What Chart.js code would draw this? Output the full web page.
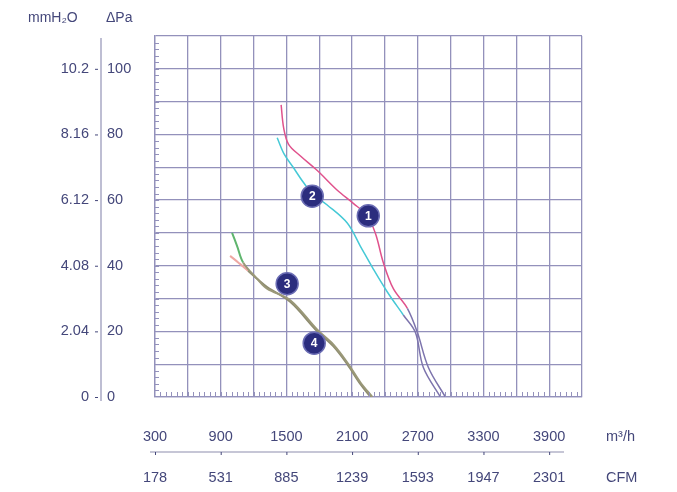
<!DOCTYPE html>
<html>
<head>
<meta charset="utf-8">
<script src="https://cdn.jsdelivr.net/npm/chart.js@4.4.1/dist/chart.umd.min.js"></script>
<style>
  html, body { margin: 0; padding: 0; background: #fff; }
</style>
</head>
<body>
<canvas id="fan" width="677" height="492"></canvas>
<script>
// tick labels
const flowTicks = [300, 900, 1500, 2100, 2700, 3300, 3900];
const cfmTicks = ['178', '531', '885', '1239', '1593', '1947', '2301'];
const paTicks = [0, 20, 40, 60, 80, 100];
const mmTicks = ['0', '2.04', '4.08', '6.12', '8.16', '10.2'];

// curves, m3/h vs Pa
const curve1Flow = [1452, 1475, 1520, 1626, 1782, 1965, 2111, 2230, 2312, 2385, 2477, 2605, 2696, 2797, 2952];
const curve1Pa   = [89,   82,   77,   73.5, 69,   63,   59,   55.5, 50,   41,   33,   27,   19.7, 9,    0];
const curve2Flow = [1416, 1480, 1562, 1653, 1736, 1873, 2056, 2175, 2294, 2422, 2568, 2678, 2751, 2907];
const curve2Pa   = [79,   74,   70,   65.5, 62,   58.5, 53,   46,   39,   32,   25,   19.7, 9,    0];
const curve3Flow = [1004, 1050, 1105, 1233, 1324, 1535, 1782, 1928, 2056, 2175, 2285];
const curve3Pa   = [50,   46,   41,   36,   33,   29.5, 20.5, 16,   10.5, 4.5,  0];
const curve4Flow = [986,  1060, 1150, 1233, 1324, 1535, 1782, 1928, 2056, 2175, 2270];
const curve4Pa   = [43,   41,   38.5, 36,   33.5, 29,   20,   15.5, 10,   4,    0];

// numbered markers
const markerFlow = [2248, 1736, 1507, 1754];
const markerPa = [55.2, 61.2, 34.5, 16.4];
const markerLabels = ['1', '2', '3', '4'];

const pts = (xs, ys) => xs.map((x, i) => ({x: x, y: ys[i]}));

const gridColor = '#9391bb';
const textColor = '#44477a';
const font = '"Liberation Sans", Arial, sans-serif';

const extras = {
  id: 'extras',
  afterDraw(chart) {
    const ctx = chart.ctx;
    const xs = chart.scales.x, ys = chart.scales.y;
    const area = chart.chartArea;
    ctx.save();

    // minor ticks along bottom and left edges
    ctx.strokeStyle = gridColor;
    ctx.lineWidth = 1;
    ctx.beginPath();
    for (let v = 350; v < 4200; v += 50) {
      const px = Math.round(xs.getPixelForValue(v)) + 0.5;
      ctx.moveTo(px, area.bottom);
      ctx.lineTo(px, area.bottom - 5);
    }
    for (let v = 2; v < 110; v += 2) {
      const py = Math.round(ys.getPixelForValue(v)) + 0.5;
      ctx.moveTo(area.left, py);
      ctx.lineTo(area.left + 4, py);
    }
    ctx.stroke();

    // left double axis
    ctx.strokeStyle = '#a9a9c4';
    ctx.lineWidth = 1.5;
    ctx.beginPath();
    ctx.moveTo(101, area.top + 2);
    ctx.lineTo(101, area.bottom + 4);
    ctx.stroke();

    ctx.fillStyle = textColor;
    ctx.font = '14.5px ' + font;
    ctx.textBaseline = 'middle';
    paTicks.forEach((v, i) => {
      const py = ys.getPixelForValue(v);
      ctx.textAlign = 'left';
      ctx.fillText(String(v), 107, py);
      ctx.textAlign = 'right';
      ctx.fillText(mmTicks[i], 89, py);
      ctx.fillRect(95, py, 3, 1);
    });

    // bottom double axis
    ctx.strokeStyle = '#b3b3c9';
    ctx.lineWidth = 1.5;
    ctx.beginPath();
    ctx.moveTo(150, 452);
    ctx.lineTo(564, 452);
    ctx.stroke();
    ctx.textAlign = 'center';
    flowTicks.forEach((v, i) => {
      const px = xs.getPixelForValue(v);
      ctx.fillText(String(v), px, 437);
      ctx.fillText(cfmTicks[i], px, 478);
      ctx.fillRect(px, 452, 1, 3);
    });
    ctx.textAlign = 'left';
    ctx.fillText('m\u00b3/h', 606, 437);
    ctx.fillText('CFM', 606, 478);

    // units on top
    ctx.font = '14px ' + font;
    ctx.fillText('mmH\u2082O', 28, 18);
    ctx.fillText('\u0394Pa', 106, 18);

    // marker numbers
    ctx.fillStyle = '#ffffff';
    ctx.font = 'bold 12px ' + font;
    ctx.textAlign = 'center';
    markerLabels.forEach((t, i) => {
      ctx.fillText(t, xs.getPixelForValue(markerFlow[i]), ys.getPixelForValue(markerPa[i]) + 1);
    });
    ctx.restore();
  }
};

const lowColor = (hi, lo, limit) => c => (c.p1.parsed.y < limit ? lo : hi);

new Chart(document.getElementById('fan'), {
  type: 'line',
  data: {
    datasets: [
      {
        data: pts(markerFlow, markerPa),
        showLine: false,
        pointRadius: 11,
        pointHoverRadius: 11,
        pointBackgroundColor: '#2b2d7e',
        pointBorderColor: '#6b6db4',
        pointBorderWidth: 1.5,
        order: 0
      },
      {
        data: pts(curve1Flow, curve1Pa),
        borderColor: '#e0528c',
        borderWidth: 1.5,
        segment: {borderColor: lowColor('#e0528c', '#7d74ad', 21)},
        order: 1
      },
      {
        data: pts(curve2Flow, curve2Pa),
        borderColor: '#45c9d6',
        borderWidth: 1.5,
        segment: {borderColor: lowColor('#45c9d6', '#7d74ad', 21)},
        order: 1
      },
      {
        data: pts(curve3Flow, curve3Pa),
        borderColor: '#9a9878',
        borderWidth: 2,
        segment: {borderColor: c => (c.p0.parsed.y > 42 ? '#5fb56e' : '#9a9878')},
        order: 1
      },
      {
        data: pts(curve4Flow, curve4Pa),
        borderColor: '#8e8c70',
        borderWidth: 2,
        segment: {borderColor: c => (c.p0.parsed.y > 39 ? '#eea7a2' : '#8e8c70')},
        order: 1
      }
    ]
  },
  options: {
    responsive: false,
    animation: false,
    layout: {padding: {left: 155, top: 36, right: 95, bottom: 95}},
    elements: {
      point: {radius: 0},
      line: {tension: 0.35, fill: false}
    },
    plugins: {legend: {display: false}, tooltip: {enabled: false}},
    scales: {
      x: {
        type: 'linear',
        min: 300,
        max: 4200,
        ticks: {display: false, stepSize: 300},
        grid: {color: gridColor, lineWidth: 1.3, drawTicks: false},
        border: {color: gridColor, width: 1.3}
      },
      y: {
        type: 'linear',
        min: 0,
        max: 110,
        ticks: {display: false, stepSize: 10},
        grid: {color: gridColor, lineWidth: 1.3, drawTicks: false},
        border: {color: gridColor, width: 1.3}
      }
    }
  },
  plugins: [extras]
});
</script>
</body>
</html>
